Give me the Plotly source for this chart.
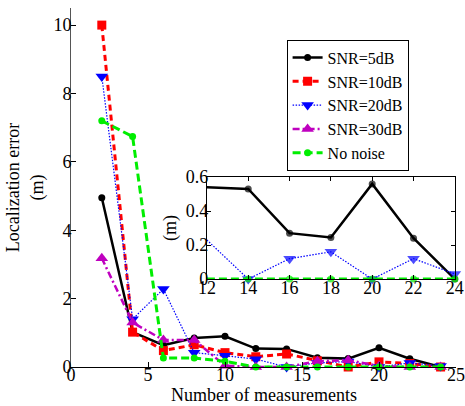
import plotly.graph_objects as go

# Number of measurements and localization error (m) for each noise level
measurements = [2, 4, 6, 8, 10, 12, 14, 16, 18, 20, 22, 24]
snr_5db = [4.95, 1.02, 0.64, 0.85, 0.90, 0.54, 0.53, 0.27, 0.245, 0.56, 0.24, 0.0]
snr_10db = [10.0, 1.02, 0.48, 0.65, 0.42, 0.30, 0.38, 0.18, 0.0, 0.15, 0.10, 0.0]
snr_20db = [8.5, 1.4, 2.28, 0.42, 0.33, 0.23, 0.0, 0.12, 0.16, 0.0, 0.12, 0.03]
snr_30db = [3.18, 1.3, 0.79, 0.79, 0.04, 0.0, 0.0, 0.17, 0.2, 0.03, 0.0, 0.0]
no_noise = [7.2, 6.74, 0.26, 0.26, 0.17, 0.0, 0.0, 0.0, 0.0, 0.0, 0.0, 0.0]

names = ["SNR=5dB", "SNR=10dB", "SNR=20dB", "SNR=30dB", "No noise"]
x_ticks = [0, 5, 10, 15, 20, 25]
y_ticks = [0, 2, 4, 6, 8, 10]
inset_x_ticks = [12, 14, 16, 18, 20, 22, 24]
inset_y_ticks = [0, 0.2, 0.4, 0.6]

FONT = "Liberation Serif"

styles = [
    dict(color="black", width=2.5, dash="solid", symbol="circle", size=7),
    dict(color="#ff0000", width=3, dash="6px,4px", symbol="square", size=9),
    dict(color="#0000ff", width=1.2, dash="1.5px,1.5px", symbol="triangle-down", size=11),
    dict(color="#bf00bf", width=2.5, dash="7px,3px,2px,3px", symbol="triangle-up", size=11),
    dict(color="#00ee00", width=3, dash="8px,4px", symbol="circle", size=7),
]
series = [snr_5db, snr_10db, snr_20db, snr_30db, no_noise]

fig = go.Figure()

# Main axes: all five noise levels
for name, ys, st in zip(names, series, styles):
    fig.add_trace(go.Scatter(
        x=measurements, y=ys, name=name, mode="lines+markers",
        line=dict(color=st["color"], width=st["width"], dash=st["dash"]),
        marker=dict(symbol=st["symbol"], size=st["size"], color=st["color"],
                    line=dict(width=0)),
        cliponaxis=False, xaxis="x", yaxis="y",
    ))

# Inset: zoom on 12..24 measurements for three of the series
inset_idx = [i for i, m in enumerate(measurements) if m >= 12]
for k in (0, 2, 4):
    st = styles[k]
    xs = [measurements[i] for i in inset_idx]
    ys = [series[k][i] for i in inset_idx]
    sizes = [0 if m <= 12 else st["size"] for m in xs]
    fig.add_trace(go.Scatter(
        x=xs, y=ys, name=names[k], mode="lines+markers", showlegend=False,
        line=dict(color=st["color"], width=st["width"], dash=st["dash"]),
        marker=dict(symbol=st["symbol"], size=sizes, color=st["color"],
                    line=dict(width=0)),
        cliponaxis=False, xaxis="x2", yaxis="y2",
    ))

tick_font = dict(family=FONT, size=18, color="black")

fig.update_layout(
    width=465, height=406,
    margin=dict(l=71, r=9, t=8, b=39, autoexpand=False),
    paper_bgcolor="white", plot_bgcolor="white",
    font=dict(family=FONT, size=18, color="black"),
    showlegend=True,
    legend=dict(
        x=0.56, y=0.912, xanchor="left", yanchor="top",
        bgcolor="white", bordercolor="black", borderwidth=1,
        font=dict(family=FONT, size=16, color="black"),
        tracegroupgap=0, itemwidth=30,
    ),
    xaxis=dict(
        range=[0, 25], tickvals=x_ticks, ticks="inside", ticklen=5,
        tickcolor="black", showline=True, linecolor="black", linewidth=1,
        showgrid=False, zeroline=False, tickfont=tick_font, automargin=False,
        ticklabelstandoff=-9, domain=[0, 1],
    ),
    yaxis=dict(
        range=[0, 10.5], tickvals=y_ticks, ticks="inside", ticklen=5,
        tickcolor="black", showline=True, linecolor="#555", linewidth=1,
        showgrid=False, zeroline=False, tickfont=tick_font, automargin=False,
        ticklabelstandoff=-5, domain=[0, 1],
    ),
    xaxis2=dict(
        range=[12, 24], tickvals=inset_x_ticks, ticks="inside", ticklen=4,
        tickcolor="black", showline=True, linecolor="black", linewidth=1,
        mirror="ticks", showgrid=False, zeroline=False, tickfont=tick_font,
        automargin=False, ticklabelstandoff=-8,
        domain=[0.353, 0.997], anchor="y2",
    ),
    yaxis2=dict(
        range=[0, 0.6], tickvals=inset_y_ticks, ticks="inside", ticklen=4,
        tickcolor="black", showline=True, linecolor="black", linewidth=1,
        mirror="ticks", showgrid=False, zeroline=False, tickfont=tick_font,
        automargin=False, ticklabelstandoff=-6,
        domain=[0.245, 0.529], anchor="x2",
    ),
    annotations=[
        dict(text="Number of measurements",
             x=0.5, y=-0.078, xref="paper", yref="paper",
             xanchor="center", yanchor="middle", showarrow=False,
             font=dict(family=FONT, size=18, color="black")),
        dict(text="Localization error<br>(m)", textangle=-90,
             x=-0.12, y=0.5, xref="paper", yref="paper",
             xanchor="center", yanchor="middle", showarrow=False,
             font=dict(family=FONT, size=18, color="black")),
        dict(text="(m)", textangle=-90,
             x=0.257, y=0.387, xref="paper", yref="paper",
             xanchor="center", yanchor="middle", showarrow=False,
             font=dict(family=FONT, size=18, color="black")),
    ],
)

fig.write_html("out.html")
